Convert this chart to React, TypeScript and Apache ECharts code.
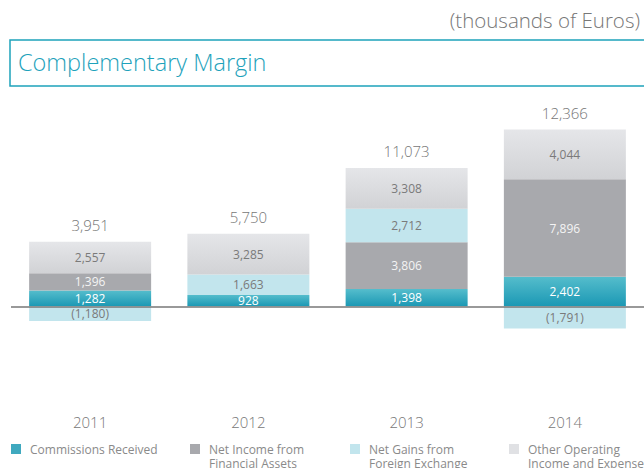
import React, { useEffect, useRef } from "react";
import * as echarts from "echarts";

const years = ["2011", "2012", "2013", "2014"];
const commissions = [1282, 928, 1398, 2402];
const netIncome: (number | null)[] = [1396, null, 3806, 7896];
const netGains = [-1180, 1663, 2712, -1791];
const otherOperating = [2557, 3285, 3308, 4044];
const totals = [3951, 5750, 11073, 12366];

const seriesNames = [
  "Commissions Received",
  "Net Income from Financial Assets",
  "Net Gains from Foreign Exchange",
  "Other Operating Income and Expense",
];
const legendLabels = [
  "Commissions Received",
  "Net Income from\nFinancial Assets",
  "Net Gains from\nForeign Exchange",
  "Other Operating\nIncome and Expense",
];

const FONT = "Open Sans";

const fmt = (v: number) =>
  v < 0 ? "(" + Math.abs(v).toLocaleString("en-US") + ")" : v.toLocaleString("en-US");

export default function App() {
  const ref = useRef<HTMLDivElement>(null);
  useEffect(() => {
    if (!ref.current) return;
    const chart = echarts.init(ref.current, undefined, { renderer: "svg" });
    const positiveTop = years.map((_, i) =>
      [commissions[i], netIncome[i], netGains[i], otherOperating[i]]
        .filter((v): v is number => v != null && v > 0)
        .reduce((a, b) => a + b, 0)
    );
    const barW = 122;
    const lbl = (color: string) => ({
      show: true,
      position: "inside" as const,
      color,
      fontFamily: FONT,
      fontSize: 12,
      formatter: (p: any) => (p.value == null ? "" : fmt(p.value)),
    });
    const legendLefts = [11, 190, 350, 509];
    const legendColors = ["#3fa9bf", "#a8a9ad", "#c2e5ed", "#e0e1e4"];
    const legendGraphics: any[] = [];
    legendLabels.forEach((t, i) => {
      legendGraphics.push({
        type: "rect",
        shape: { x: legendLefts[i], y: 444, width: 10, height: 10 },
        style: { fill: legendColors[i] },
      });
      legendGraphics.push({
        type: "text",
        x: legendLefts[i] + 19,
        y: 442,
        style: {
          text: t,
          fill: "#8a8a8a",
          fontSize: 12,
          lineHeight: 14,
          fontFamily: FONT,
          verticalAlign: "top",
        },
      });
    });
    chart.setOption({
      animation: false,
      textStyle: { fontFamily: FONT },
      grid: { left: 11, width: 636, top: 109, height: 296 },
      xAxis: {
        type: "category",
        data: years,
        axisLine: { show: false, onZero: false },
        axisTick: { show: false },
        axisLabel: { color: "#777", fontSize: 15, margin: 9, fontFamily: FONT, fontWeight: 300 },
      },
      yAxis: {
        type: "value",
        min: -8000,
        max: 16000,
        show: false,
        splitLine: { show: false },
      },
      graphic: [
        {
          type: "text",
          right: 4,
          top: 9,
          style: { text: "(thousands of Euros)", fill: "#777", fontSize: 20.5, fontFamily: FONT, fontWeight: 300 },
        },
        {
          type: "rect",
          shape: { x: 10, y: 40, width: 660, height: 46 },
          style: { fill: "none", stroke: "#1ea2bb", lineWidth: 1.5 },
        },
        {
          type: "text",
          left: 18,
          top: 50,
          style: { text: "Complementary Margin", fill: "#1ea2bb", fontSize: 23.5, fontFamily: FONT, fontWeight: 300 },
        },
        ...legendGraphics,
      ],
      series: [
        {
          name: seriesNames[0],
          type: "bar",
          stack: "m",
          barWidth: barW,
          data: commissions,
          itemStyle: {
            color: new echarts.graphic.LinearGradient(0, 0, 0, 1, [
              { offset: 0, color: "#55bdcc" },
              { offset: 1, color: "#1b98b4" },
            ]),
          },
          label: lbl("#ffffff"),
          markLine: {
            silent: true,
            symbol: "none",
            label: { show: false },
            lineStyle: { color: "#777", width: 1.5, type: "solid" },
            data: [{ yAxis: 0 }],
          },
        },
        {
          name: seriesNames[1],
          type: "bar",
          stack: "m",
          barWidth: barW,
          data: netIncome,
          itemStyle: { color: "#a8a9ad" },
          label: lbl("#f4f4f4"),
        },
        {
          name: seriesNames[2],
          type: "bar",
          stack: "m",
          barWidth: barW,
          data: netGains,
          itemStyle: { color: "#c2e5ed" },
          label: lbl("#7a7a7a"),
        },
        {
          name: seriesNames[3],
          type: "bar",
          stack: "m",
          barWidth: barW,
          data: otherOperating,
          itemStyle: {
            color: new echarts.graphic.LinearGradient(0, 0, 0, 1, [
              { offset: 0, color: "#e5e6e9" },
              { offset: 1, color: "#d1d2d5" },
            ]),
          },
          label: lbl("#7a7a7a"),
        },
        {
          name: "total",
          type: "bar",
          barWidth: barW,
          barGap: "-100%",
          data: positiveTop,
          itemStyle: { color: "rgba(0,0,0,0)" },
          silent: true,
          z: 1,
          label: {
            show: true,
            position: "top",
            distance: 9,
            color: "#777",
            fontSize: 15,
            fontFamily: FONT,
            fontWeight: 300,
            formatter: (p: any) => fmt(totals[p.dataIndex]),
          },
        },
      ],
    });
    return () => chart.dispose();
  }, []);
  return (
    <div
      ref={ref}
      style={{ position: "absolute", left: 0, top: 0, width: 644, height: 468 }}
    />
  );
}
